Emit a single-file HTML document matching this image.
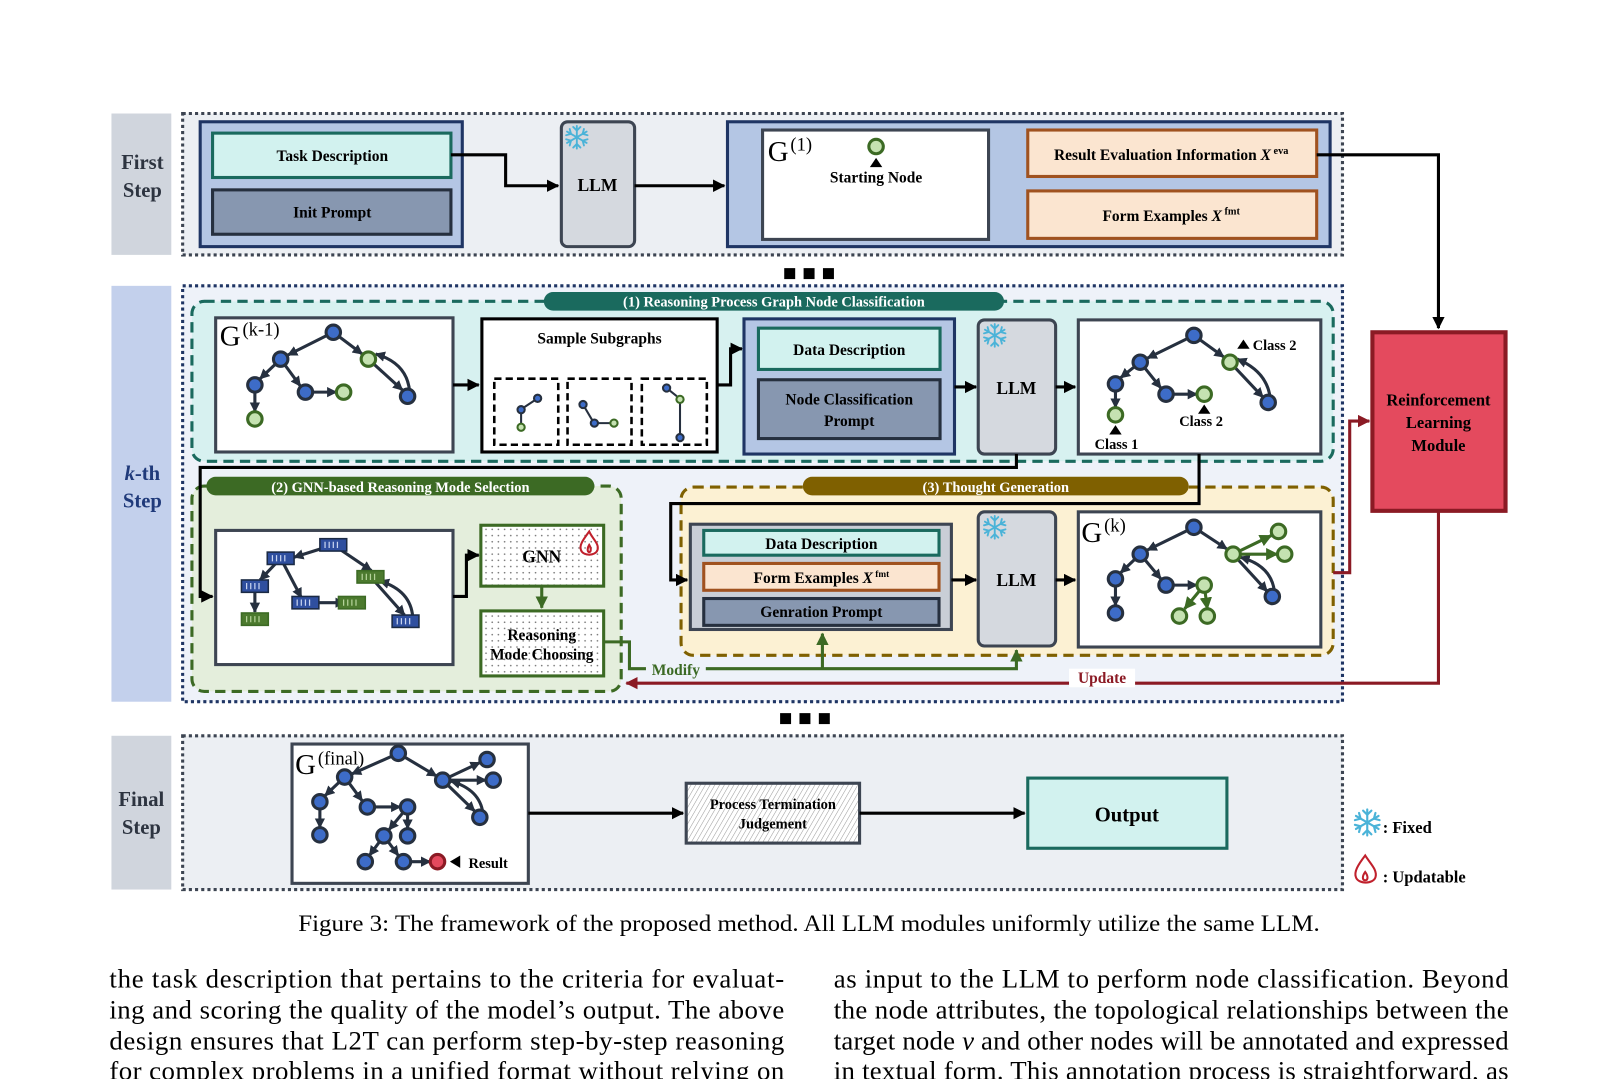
<!DOCTYPE html>
<html><head><meta charset="utf-8"><style>
html,body{margin:0;padding:0;background:#fff;}
svg{display:block;}
text{font-family:"Liberation Serif",serif;}
.b{font-weight:bold;}
</style></head><body>
<svg width="1618" height="1079" viewBox="0 0 1568 1045.6" preserveAspectRatio="none" xmlns="http://www.w3.org/2000/svg">
<defs>
<marker id="ak" markerUnits="userSpaceOnUse" markerWidth="14" markerHeight="14" refX="11" refY="6" orient="auto"><path d="M0,0 L12,6 L0,12z" fill="#000"/></marker>
<marker id="ad" markerUnits="userSpaceOnUse" markerWidth="12" markerHeight="12" refX="9" refY="5" orient="auto"><path d="M0,0 L10,5 L0,10z" fill="#26303f"/></marker>
<marker id="ag" markerUnits="userSpaceOnUse" markerWidth="14" markerHeight="14" refX="11" refY="6" orient="auto"><path d="M0,0 L12,6 L0,12z" fill="#3c6a24"/></marker>
<marker id="ar" markerUnits="userSpaceOnUse" markerWidth="14" markerHeight="14" refX="11" refY="6" orient="auto"><path d="M0,0 L12,6 L0,12z" fill="#8b1a24"/></marker>
<pattern id="dots" width="6" height="6" patternUnits="userSpaceOnUse"><rect width="6" height="6" fill="#fff"/><circle cx="3" cy="3" r="0.8" fill="#777"/></pattern>
<pattern id="hatch" width="4" height="4" patternUnits="userSpaceOnUse" patternTransform="rotate(30)"><rect width="4" height="4" fill="#fff"/><line x1="0" y1="0" x2="0" y2="4" stroke="#999" stroke-width="1"/></pattern>
<g id="snow" stroke="#4ab3d8" stroke-width="1.8" fill="none" stroke-linecap="round">
<g id="arm"><line x1="0" y1="-11" x2="0" y2="11"/><polyline points="-3.5,-10 0,-6.5 3.5,-10"/><polyline points="-3.5,10 0,6.5 3.5,10"/></g>
<use href="#arm" transform="rotate(60)"/><use href="#arm" transform="rotate(120)"/>
</g>
</defs>

<!-- FIRST STEP -->
<rect x="108" y="110" width="58" height="137" fill="#d0d5dd"/>
<text x="138" y="164" class="b" font-size="20" fill="#2d3440" text-anchor="middle">First</text>
<text x="138" y="191" class="b" font-size="20" fill="#2d3440" text-anchor="middle">Step</text>
<rect x="177" y="110" width="1124" height="137" fill="#eceff3" stroke="#3d4552" stroke-width="3" stroke-dasharray="3,3"/>
<rect x="194" y="118" width="254" height="121" fill="#b4c6e4" stroke="#1f3564" stroke-width="3"/>
<rect x="206" y="129" width="231" height="43" fill="#d2f2ef" stroke="#1a6a5e" stroke-width="3"/>
<text x="322" y="156" class="b" font-size="15" text-anchor="middle">Task Description</text>
<rect x="206" y="184" width="231" height="43" fill="#8797b0" stroke="#26303f" stroke-width="3"/>
<text x="322" y="211" class="b" font-size="15" text-anchor="middle">Init Prompt</text>
<rect x="544" y="118" width="71" height="121" rx="6" fill="#d5d9df" stroke="#3d4552" stroke-width="3"/>
<use href="#snow" transform="translate(559,133)"/>
<text x="579" y="185" class="b" font-size="17" text-anchor="middle">LLM</text>
<polyline points="437,150 490,150 490,180 541,180" fill="none" stroke="#000" stroke-width="3" marker-end="url(#ak)"/>
<line x1="615" y1="180" x2="702" y2="180" stroke="#000" stroke-width="3" marker-end="url(#ak)"/>
<rect x="705" y="118" width="584" height="121" fill="#b4c6e4" stroke="#1f3564" stroke-width="3"/>
<rect x="739" y="126" width="219" height="106" fill="#fff" stroke="#3d4552" stroke-width="3"/>
<text x="744" y="156" font-size="28">G</text><text x="766" y="146" font-size="18">(1)</text>
<circle cx="849" cy="142" r="7" fill="#c5e2b1" stroke="#3c6a24" stroke-width="3"/>
<path d="M843,162 L849,153 L855,162z" fill="#000"/>
<text x="849" y="177" class="b" font-size="15" text-anchor="middle">Starting Node</text>
<rect x="996" y="126" width="280" height="45" fill="#fbe5d0" stroke="#a0521f" stroke-width="3"/>
<text x="1135" y="155" class="b" font-size="15" text-anchor="middle">Result Evaluation Information <tspan font-style="italic">X</tspan><tspan font-size="10" dy="-6"> eva</tspan></text>
<rect x="996" y="185" width="280" height="46" fill="#fbe5d0" stroke="#a0521f" stroke-width="3"/>
<text x="1135" y="214" class="b" font-size="15" text-anchor="middle">Form Examples <tspan font-style="italic">X</tspan><tspan font-size="10" dy="-6"> fmt</tspan></text>
<polyline points="1276,150 1394,150 1394,318" fill="none" stroke="#000" stroke-width="3" marker-end="url(#ak)"/>
<text x="784" y="272" class="b" font-size="22" text-anchor="middle">■ ■ ■</text>

<!-- K-TH STEP -->
<rect x="108" y="277" width="58" height="403" fill="#c3d0ec"/>
<text x="138" y="465" class="b" font-size="20" fill="#203a7a" text-anchor="middle"><tspan font-style="italic">k</tspan>-th</text>
<text x="138" y="492" class="b" font-size="20" fill="#203a7a" text-anchor="middle">Step</text>
<rect x="177" y="277" width="1124" height="403" fill="#eef2f9" stroke="#1f3564" stroke-width="3" stroke-dasharray="3,3"/>

<!-- section 1 -->
<rect x="186" y="292" width="1106" height="155" rx="12" fill="#d7f1f0" stroke="#1a6a5e" stroke-width="3" stroke-dasharray="10,6"/>
<rect x="527" y="283" width="446" height="18" rx="9" fill="#1a6a5e"/>
<text x="750" y="297" class="b" font-size="14" fill="#fff" text-anchor="middle">(1) Reasoning Process Graph Node Classification</text>
<rect x="209" y="308" width="230" height="130" fill="#fff" stroke="#3d4552" stroke-width="3"/>
<text x="213" y="335" font-size="28">G</text><text x="235" y="325" font-size="18">(k-1)</text>
<g stroke="#26303f" stroke-width="3" fill="none">
<line x1="323" y1="322" x2="279" y2="344" marker-end="url(#ad)"/>
<line x1="323" y1="322" x2="351" y2="343" marker-end="url(#ad)"/>
<line x1="272" y1="348" x2="252" y2="367" marker-end="url(#ad)"/>
<line x1="272" y1="348" x2="291" y2="374" marker-end="url(#ad)"/>
<line x1="247" y1="373" x2="247" y2="399" marker-end="url(#ad)"/>
<line x1="296" y1="380" x2="326" y2="380" marker-end="url(#ad)"/>
<line x1="357" y1="348" x2="390" y2="378" marker-end="url(#ad)"/>
<path d="M397,380 Q395,352 364,343" marker-end="url(#ad)"/>
</g>
<g stroke="#26303f" stroke-width="3" fill="#3d6cc8"><circle cx="323" cy="322" r="7"/><circle cx="272" cy="348" r="7"/><circle cx="247" cy="373" r="7"/><circle cx="296" cy="380" r="7"/><circle cx="395" cy="384" r="7"/></g>
<g stroke="#3c6a24" stroke-width="3" fill="#c5e2b1"><circle cx="247" cy="406" r="7"/><circle cx="333" cy="380" r="7"/><circle cx="357" cy="348" r="7"/></g>
<line x1="439" y1="373" x2="464" y2="373" stroke="#000" stroke-width="3" marker-end="url(#ak)"/>
<rect x="467" y="309" width="228" height="129" fill="#fff" stroke="#000" stroke-width="3"/>
<text x="581" y="333" class="b" font-size="15" text-anchor="middle">Sample Subgraphs</text>
<g fill="none" stroke="#000" stroke-width="2.5" stroke-dasharray="7,4"><rect x="479" y="367" width="62" height="64"/><rect x="550" y="367" width="62" height="64"/><rect x="622" y="367" width="63" height="64"/></g>
<g stroke="#26303f" stroke-width="2" fill="none"><line x1="521" y1="386" x2="506" y2="396"/><line x1="505" y1="398" x2="505" y2="411"/><line x1="565" y1="392" x2="575" y2="409"/><line x1="576" y1="410" x2="592" y2="410"/><line x1="646" y1="376" x2="656" y2="384"/><line x1="659" y1="423" x2="659" y2="390"/></g>
<g stroke="#26303f" stroke-width="2" fill="#3d6cc8"><circle cx="521" cy="386" r="3.5"/><circle cx="505" cy="397" r="3.5"/><circle cx="565" cy="392" r="3.5"/><circle cx="576" cy="410" r="3.5"/><circle cx="646" cy="376" r="3.5"/><circle cx="659" cy="424" r="3.5"/></g>
<g stroke="#3c6a24" stroke-width="2" fill="#c5e2b1"><circle cx="505" cy="414" r="3.5"/><circle cx="595" cy="410" r="3.5"/><circle cx="659" cy="387" r="3.5"/></g>
<polyline points="695,373 708,373 708,338 719,338" fill="none" stroke="#000" stroke-width="3" marker-end="url(#ak)"/>
<rect x="721" y="309" width="204" height="131" fill="#b4c6e4" stroke="#1f3564" stroke-width="3"/>
<rect x="735" y="318" width="176" height="40" fill="#d2f2ef" stroke="#1a6a5e" stroke-width="3"/>
<text x="823" y="344" class="b" font-size="15" text-anchor="middle">Data Description</text>
<rect x="735" y="368" width="176" height="57" fill="#8797b0" stroke="#26303f" stroke-width="3"/>
<text x="823" y="392" class="b" font-size="15" text-anchor="middle">Node Classification</text>
<text x="823" y="413" class="b" font-size="15" text-anchor="middle">Prompt</text>
<line x1="925" y1="375" x2="946" y2="375" stroke="#000" stroke-width="3" marker-end="url(#ak)"/>
<rect x="948" y="310" width="75" height="130" rx="6" fill="#d5d9df" stroke="#3d4552" stroke-width="3"/>
<use href="#snow" transform="translate(964,325)"/>
<text x="985" y="382" class="b" font-size="17" text-anchor="middle">LLM</text>
<line x1="1023" y1="375" x2="1042" y2="375" stroke="#000" stroke-width="3" marker-end="url(#ak)"/>
<rect x="1045" y="310" width="235" height="130" fill="#fff" stroke="#3d4552" stroke-width="3"/>
<g stroke="#26303f" stroke-width="3" fill="none">
<line x1="1157" y1="325" x2="1112" y2="347" marker-end="url(#ad)"/>
<line x1="1157" y1="325" x2="1186" y2="346" marker-end="url(#ad)"/>
<line x1="1105" y1="351" x2="1086" y2="366" marker-end="url(#ad)"/>
<line x1="1105" y1="351" x2="1125" y2="376" marker-end="url(#ad)"/>
<line x1="1081" y1="372" x2="1081" y2="395" marker-end="url(#ad)"/>
<line x1="1130" y1="382" x2="1160" y2="382" marker-end="url(#ad)"/>
<line x1="1192" y1="351" x2="1224" y2="385" marker-end="url(#ad)"/>
<path d="M1231,386 Q1228,360 1199,348" marker-end="url(#ad)"/>
</g>
<g stroke="#26303f" stroke-width="3" fill="#3d6cc8"><circle cx="1157" cy="325" r="7"/><circle cx="1105" cy="351" r="7"/><circle cx="1081" cy="372" r="7"/><circle cx="1130" cy="382" r="7"/><circle cx="1229" cy="390" r="7"/></g>
<g stroke="#3c6a24" stroke-width="3" fill="#c5e2b1"><circle cx="1081" cy="402" r="7"/><circle cx="1167" cy="382" r="7"/><circle cx="1192" cy="351" r="7"/></g>
<path d="M1199,338 L1205,329 L1211,338z" fill="#000"/><text x="1214" y="339" class="b" font-size="14">Class 2</text>
<path d="M1161,401 L1167,392 L1173,401z" fill="#000"/><text x="1164" y="413" class="b" font-size="14" text-anchor="middle">Class 2</text>
<path d="M1075,421 L1081,412 L1087,421z" fill="#000"/><text x="1082" y="435" class="b" font-size="14" text-anchor="middle">Class 1</text>

<!-- section 2 -->
<rect x="186" y="471" width="416" height="199" rx="12" fill="#e4eedc" stroke="#3c6a24" stroke-width="3" stroke-dasharray="10,6"/>
<rect x="200" y="462" width="376" height="18" rx="9" fill="#3c6a24"/>
<text x="388" y="477" class="b" font-size="14" fill="#fff" text-anchor="middle">(2) GNN-based Reasoning Mode Selection</text>
<polyline points="985,440 985,453 194,453 194,578 206,578" fill="none" stroke="#000" stroke-width="3" marker-end="url(#ak)"/>
<rect x="209" y="514" width="230" height="130" fill="#fff" stroke="#3d4552" stroke-width="3"/>
<g stroke="#26303f" stroke-width="3" fill="none">
<line x1="323" y1="528" x2="285" y2="540" marker-end="url(#ad)"/>
<line x1="323" y1="528" x2="360" y2="553" marker-end="url(#ad)"/>
<line x1="272" y1="541" x2="252" y2="562" marker-end="url(#ad)"/>
<line x1="272" y1="541" x2="292" y2="579" marker-end="url(#ad)"/>
<line x1="247" y1="568" x2="247" y2="593" marker-end="url(#ad)"/>
<line x1="305" y1="584" x2="334" y2="584" marker-end="url(#ad)"/>
<line x1="360" y1="560" x2="392" y2="596" marker-end="url(#ad)"/>
<path d="M400,598 Q398,572 368,563" marker-end="url(#ad)"/>
</g>
<g fill="#2f4f9f" stroke="#1b2a44" stroke-width="1.5"><rect x="310" y="522" width="26" height="12"/><rect x="259" y="535" width="26" height="12"/><rect x="234" y="562" width="26" height="12"/><rect x="283" y="578" width="26" height="12"/><rect x="380" y="596" width="26" height="12"/></g>
<g fill="#4c7a2e" stroke="#3c6a24" stroke-width="1.5"><rect x="234" y="594" width="26" height="12"/><rect x="328" y="578" width="26" height="12"/><rect x="346" y="553" width="26" height="12"/></g>
<g stroke="#c8d4f0" stroke-width="1.2"><path d="M315,525v6M319,525v6M323,525v6M327,525v6M264,538v6M268,538v6M272,538v6M276,538v6M239,565v6M243,565v6M247,565v6M251,565v6M288,581v6M292,581v6M296,581v6M300,581v6M385,599v6M389,599v6M393,599v6M397,599v6"/></g>
<g stroke="#b5d39a" stroke-width="1.2"><path d="M239,597v6M243,597v6M247,597v6M251,597v6M333,581v6M337,581v6M341,581v6M345,581v6M351,556v6M355,556v6M359,556v6M363,556v6"/></g>
<polyline points="439,578 452,578 452,538 464,538" fill="none" stroke="#000" stroke-width="3" marker-end="url(#ak)"/>
<rect x="466" y="509" width="119" height="59" fill="url(#dots)" stroke="#3c6a24" stroke-width="3"/>
<text x="525" y="545" class="b" font-size="17" text-anchor="middle">GNN</text>
<path d="M571,515 C566,522 561,528 563,533 C565,539 577,539 579,533 C581,527 574,522 571,515z M571,528 C569,531 569,535 571,535 C573,535 573,531 571,528z" fill="none" stroke="#c0202c" stroke-width="2"/>
<line x1="525" y1="568" x2="525" y2="589" stroke="#3c6a24" stroke-width="3" marker-end="url(#ag)"/>
<rect x="466" y="592" width="119" height="63" fill="url(#dots)" stroke="#3c6a24" stroke-width="3"/>
<text x="525" y="620" class="b" font-size="15" text-anchor="middle">Reasoning</text>
<text x="525" y="639" class="b" font-size="15" text-anchor="middle">Mode Choosing</text>

<!-- section 3 -->
<rect x="660" y="472" width="632" height="163" rx="12" fill="#fcf1d3" stroke="#7f6000" stroke-width="3" stroke-dasharray="10,6"/>
<rect x="778" y="462" width="374" height="18" rx="9" fill="#7f6000"/>
<text x="965" y="477" class="b" font-size="14" fill="#fff" text-anchor="middle">(3) Thought Generation</text>
<polyline points="1162,440 1162,488 650,488 650,562 666,562" fill="none" stroke="#000" stroke-width="3" marker-end="url(#ak)"/>
<rect x="669" y="508" width="253" height="102" fill="#c9ced6" stroke="#3d4552" stroke-width="3"/>
<rect x="682" y="514" width="228" height="24" fill="#d2f2ef" stroke="#1a6a5e" stroke-width="3"/>
<text x="796" y="532" class="b" font-size="15" text-anchor="middle">Data Description</text>
<rect x="682" y="546" width="228" height="26" fill="#fbe5d0" stroke="#a0521f" stroke-width="3"/>
<text x="796" y="565" class="b" font-size="15" text-anchor="middle">Form Examples <tspan font-style="italic">X</tspan><tspan font-size="9" dy="-6"> fmt</tspan></text>
<rect x="682" y="580" width="228" height="26" fill="#8797b0" stroke="#26303f" stroke-width="3"/>
<text x="796" y="598" class="b" font-size="15" text-anchor="middle">Genration Prompt</text>
<line x1="922" y1="562" x2="946" y2="562" stroke="#000" stroke-width="3" marker-end="url(#ak)"/>
<rect x="948" y="496" width="75" height="130" rx="6" fill="#d5d9df" stroke="#3d4552" stroke-width="3"/>
<use href="#snow" transform="translate(964,511)"/>
<text x="985" y="568" class="b" font-size="17" text-anchor="middle">LLM</text>
<line x1="1023" y1="562" x2="1042" y2="562" stroke="#000" stroke-width="3" marker-end="url(#ak)"/>
<rect x="1045" y="496" width="235" height="131" fill="#fff" stroke="#3d4552" stroke-width="3"/>
<text x="1048" y="525" font-size="28">G</text><text x="1070" y="515" font-size="18">(k)</text>
<g stroke="#26303f" stroke-width="3" fill="none">
<line x1="1157" y1="511" x2="1112" y2="533" marker-end="url(#ad)"/>
<line x1="1157" y1="511" x2="1189" y2="532" marker-end="url(#ad)"/>
<line x1="1105" y1="537" x2="1086" y2="555" marker-end="url(#ad)"/>
<line x1="1105" y1="537" x2="1125" y2="561" marker-end="url(#ad)"/>
<line x1="1081" y1="561" x2="1081" y2="587" marker-end="url(#ad)"/>
<line x1="1130" y1="567" x2="1160" y2="567" marker-end="url(#ad)"/>
<line x1="1195" y1="537" x2="1228" y2="573" marker-end="url(#ad)"/>
<path d="M1235,573 Q1232,548 1202,540" marker-end="url(#ad)"/>
</g>
<g stroke="#3c6a24" stroke-width="3" fill="none">
<line x1="1195" y1="537" x2="1232" y2="519" marker-end="url(#ag)"/>
<line x1="1195" y1="537" x2="1238" y2="537" marker-end="url(#ag)"/>
<line x1="1167" y1="567" x2="1148" y2="590" marker-end="url(#ag)"/>
<line x1="1167" y1="567" x2="1170" y2="590" marker-end="url(#ag)"/>
</g>
<g stroke="#26303f" stroke-width="3" fill="#3d6cc8"><circle cx="1157" cy="511" r="7"/><circle cx="1105" cy="537" r="7"/><circle cx="1081" cy="561" r="7"/><circle cx="1130" cy="567" r="7"/><circle cx="1233" cy="578" r="7"/><circle cx="1081" cy="594" r="7"/></g>
<g stroke="#3c6a24" stroke-width="3" fill="#c5e2b1"><circle cx="1167" cy="567" r="7"/><circle cx="1195" cy="537" r="7"/><circle cx="1239" cy="515" r="7"/><circle cx="1245" cy="537" r="7"/><circle cx="1143" cy="597" r="7"/><circle cx="1170" cy="597" r="7"/></g>

<!-- modify / update -->
<polyline points="585,622 610,622 610,648 985,648 985,630" fill="none" stroke="#3c6a24" stroke-width="3" marker-end="url(#ag)"/>
<line x1="797" y1="648" x2="797" y2="614" stroke="#3c6a24" stroke-width="3" marker-end="url(#ag)"/>
<rect x="626" y="640" width="58" height="16" fill="#eef2f9"/>
<text x="655" y="654" class="b" font-size="15" fill="#3c6a24" text-anchor="middle">Modify</text>
<polyline points="1394,495 1394,662 607,662" fill="none" stroke="#8b1a24" stroke-width="3" marker-end="url(#ar)"/>
<rect x="1036" y="648" width="64" height="18" fill="#fff"/>
<text x="1068" y="662" class="b" font-size="15" fill="#8b1a24" text-anchor="middle">Update</text>
<polyline points="1292,555 1308,555 1308,408 1327,408" fill="none" stroke="#8b1a24" stroke-width="3" marker-end="url(#ar)"/>
<rect x="1330" y="322" width="129" height="173" fill="#e44a5e" stroke="#8b1a24" stroke-width="4"/>
<text x="1394" y="393" class="b" font-size="16" text-anchor="middle">Reinforcement</text>
<text x="1394" y="415" class="b" font-size="16" text-anchor="middle">Learning</text>
<text x="1394" y="437" class="b" font-size="16" text-anchor="middle">Module</text>
<text x="780" y="703" class="b" font-size="22" text-anchor="middle">■ ■ ■</text>

<!-- FINAL STEP -->
<rect x="108" y="713" width="58" height="149" fill="#d0d5dd"/>
<text x="137" y="781" class="b" font-size="20" fill="#2d3440" text-anchor="middle">Final</text>
<text x="137" y="808" class="b" font-size="20" fill="#2d3440" text-anchor="middle">Step</text>
<rect x="177" y="713" width="1124" height="149" fill="#eceff3" stroke="#3d4552" stroke-width="3" stroke-dasharray="3,3"/>
<rect x="283" y="721" width="229" height="135" fill="#fff" stroke="#3d4552" stroke-width="3"/>
<text x="286" y="750" font-size="28">G</text><text x="308" y="741" font-size="18">(final)</text>
<g stroke="#26303f" stroke-width="3" fill="none">
<line x1="386" y1="730" x2="341" y2="750" marker-end="url(#ad)"/>
<line x1="386" y1="730" x2="423" y2="752" marker-end="url(#ad)"/>
<line x1="334" y1="753" x2="315" y2="771" marker-end="url(#ad)"/>
<line x1="334" y1="753" x2="351" y2="776" marker-end="url(#ad)"/>
<line x1="310" y1="777" x2="310" y2="802" marker-end="url(#ad)"/>
<line x1="356" y1="782" x2="388" y2="782" marker-end="url(#ad)"/>
<line x1="429" y1="756" x2="465" y2="739" marker-end="url(#ad)"/>
<line x1="429" y1="756" x2="471" y2="756" marker-end="url(#ad)"/>
<line x1="429" y1="756" x2="460" y2="786" marker-end="url(#ad)"/>
<path d="M468,788 Q465,765 437,757" marker-end="url(#ad)"/>
<line x1="395" y1="782" x2="377" y2="804" marker-end="url(#ad)"/>
<line x1="395" y1="782" x2="395" y2="803" marker-end="url(#ad)"/>
<line x1="372" y1="810" x2="358" y2="829" marker-end="url(#ad)"/>
<line x1="372" y1="810" x2="386" y2="829" marker-end="url(#ad)"/>
<line x1="391" y1="835" x2="417" y2="835" marker-end="url(#ad)"/>
</g>
<g stroke="#26303f" stroke-width="3" fill="#3d6cc8"><circle cx="386" cy="730" r="7"/><circle cx="334" cy="753" r="7"/><circle cx="310" cy="777" r="7"/><circle cx="310" cy="809" r="7"/><circle cx="356" cy="782" r="7"/><circle cx="395" cy="782" r="7"/><circle cx="429" cy="756" r="7"/><circle cx="472" cy="736" r="7"/><circle cx="478" cy="756" r="7"/><circle cx="465" cy="792" r="7"/><circle cx="372" cy="810" r="7"/><circle cx="395" cy="810" r="7"/><circle cx="354" cy="835" r="7"/><circle cx="391" cy="835" r="7"/></g>
<circle cx="424" cy="835" r="7" fill="#e44a5e" stroke="#8b1a24" stroke-width="3"/>
<path d="M436,835 L446,829 L446,841z" fill="#000"/>
<text x="454" y="841" class="b" font-size="14">Result</text>
<line x1="512" y1="788" x2="662" y2="788" stroke="#000" stroke-width="3" marker-end="url(#ak)"/>
<rect x="665" y="759" width="168" height="58" fill="url(#hatch)" stroke="#3d4552" stroke-width="3"/>
<text x="749" y="784" class="b" font-size="14" text-anchor="middle">Process Termination</text>
<text x="749" y="803" class="b" font-size="14" text-anchor="middle">Judgement</text>
<line x1="833" y1="788" x2="993" y2="788" stroke="#000" stroke-width="3" marker-end="url(#ak)"/>
<rect x="996" y="754" width="193" height="68" fill="#d2f2ef" stroke="#1a6a5e" stroke-width="3"/>
<text x="1092" y="796" class="b" font-size="20" text-anchor="middle">Output</text>

<!-- legend -->
<use href="#snow" transform="translate(1325,797) scale(1.15)"/>
<text x="1340" y="807" class="b" font-size="16">: Fixed</text>
<path d="M1323,829 C1316,838 1312,845 1314,850 C1316,857 1331,857 1333,850 C1335,843 1328,837 1323,829z M1323,845 C1320,849 1320,853 1323,853 C1326,853 1326,849 1323,845z" fill="none" stroke="#c0202c" stroke-width="2"/>
<text x="1340" y="855" class="b" font-size="16">: Updatable</text>

<!-- caption & body -->
<text x="289" y="902" font-size="23" textLength="990" lengthAdjust="spacingAndGlyphs">Figure 3: The framework of the proposed method. All LLM modules uniformly utilize the same LLM.</text>
<g font-size="26">
<text x="106" y="957" textLength="654" lengthAdjust="spacing">the task description that pertains to the criteria for evaluat-</text>
<text x="106" y="987" textLength="654" lengthAdjust="spacing">ing and scoring the quality of the model’s output. The above</text>
<text x="106" y="1017" textLength="654" lengthAdjust="spacing">design ensures that L2T can perform step-by-step reasoning</text>
<text x="106" y="1046" textLength="654" lengthAdjust="spacing">for complex problems in a unified format without relying on</text>
<text x="808" y="957" textLength="654" lengthAdjust="spacing">as input to the LLM to perform node classification.  Beyond</text>
<text x="808" y="987" textLength="654" lengthAdjust="spacing">the node attributes, the topological relationships between the</text>
<text x="808" y="1017" textLength="654" lengthAdjust="spacing">target node <tspan font-style="italic">v</tspan> and other nodes will be annotated and expressed</text>
<text x="808" y="1046" textLength="654" lengthAdjust="spacing">in textual form. This annotation process is straightforward, as</text>
</g>
</svg>
</body></html>
